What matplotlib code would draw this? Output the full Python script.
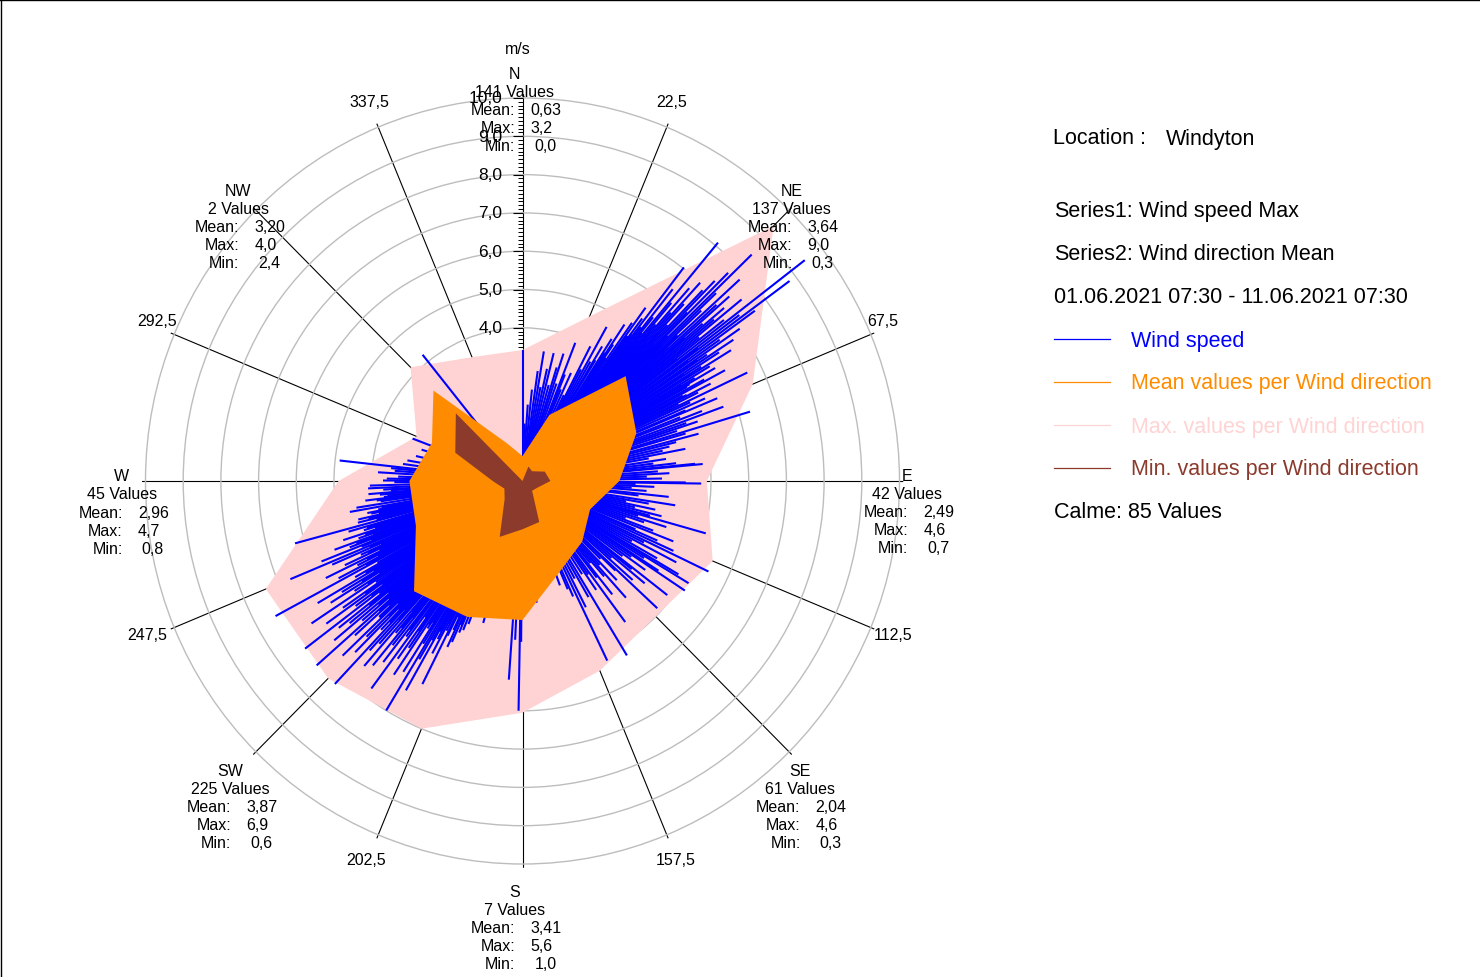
import numpy as np
import matplotlib.pyplot as plt
from matplotlib.lines import Line2D

plt.rcParams['font.family'] = ['Liberation Sans', 'DejaVu Sans']

# ---- data ------------------------------------------------------------------
# polygon corners every 22.5 deg (m/s)
poly_dir = [0, 22.5, 45, 67.5, 90, 112.5, 135, 157.5,
            180, 202.5, 225, 247.5, 270, 292.5, 315, 337.5]
max_line = [3.42, 4.65, 9.42, 6.61, 4.89, 5.46, 5.00, 5.36,
            6.05, 7.00, 7.29, 7.37, 4.88, 3.04, 4.20, 3.50]
mean_line = [0.65, 1.87, 3.87, 3.27, 2.57, 1.94, 2.24, 2.57,
             3.63, 3.84, 4.07, 3.06, 3.00, 2.60, 3.34, 1.06]
min_line = [0.00, 0.41, 0.36, 0.64, 0.74, 0.44, 0.36, 1.16,
            1.26, 1.58, 0.67, 0.52, 0.79, 1.93, 2.50, 0.00]

# sector statistics
sector_names = ['N', 'NE', 'E', 'SE', 'S', 'SW', 'W', 'NW']
sector_count = [141, 137, 42, 61, 7, 225, 45, 2]
sector_mean = [0.63, 3.64, 2.49, 2.04, 3.41, 3.87, 2.96, 3.20]
sector_max = [3.2, 9.0, 4.6, 4.6, 5.6, 6.9, 4.7, 4.0]
sector_min = [0.0, 0.3, 0.7, 0.3, 1.0, 0.6, 0.8, 2.4]

# single measurements (direction deg, speed m/s), only the visible ones
obs_N = [(0, 3.42), (2, 1.5), (4, 2.0), (6, 2.4), (8, 2.9), (9.5, 3.43), (11, 2.5),
         (12.5, 3.0), (13.9, 3.44), (15.5, 2.6), (17, 3.1), (18.1, 3.5), (19.5, 2.7),
         (21.2, 3.87), (22, 3.0)]
obs_NE = [(23, 2.6), (24.5, 3.1), (26, 2.5), (27.1, 3.95), (28, 3.3), (29, 4.6), (30, 3.6),
          (31, 4.1), (31.5, 3.7), (32.5, 4.4), (33, 4.0), (33.5, 4.9), (34, 4.3), (34.5, 3.9),
          (35.1, 5.05), (35.8, 5.58), (36.3, 4.7), (36.8, 5.3), (37.5, 7.03), (38, 5.1),
          (38.5, 6.4), (39, 5.5), (39.8, 8.1), (40.3, 6.1), (40.8, 5.4), (41.3, 6.7),
          (41.8, 5.9), (42.3, 7.0), (42.8, 6.3), (43.3, 5.6), (43.8, 6.9), (44.3, 7.3),
          (44.8, 6.2), (45.1, 7.7), (45.8, 8.48), (46.3, 7.1), (46.8, 6.5), (47.6, 7.8),
          (48.2, 6.9), (48.7, 7.3), (49.3, 6.3), (49.8, 7.0), (50.3, 6.6), (50.8, 7.5),
          (51.3, 6.0), (51.8, 6.8), (52.4, 9.45), (53, 7.2), (53.6, 8.8), (54.2, 7.6),
          (54.8, 6.4), (55.4, 7.0), (56, 5.9), (56.6, 6.7), (57.2, 6.2), (57.8, 5.6),
          (58.3, 6.5), (58.9, 5.8), (59.5, 5.3), (60, 5.9), (60.6, 5.0), (61.2, 5.5),
          (61.7, 6.1), (62.3, 4.8), (63, 5.6), (63.6, 5.2), (64.6, 6.6), (65.2, 4.9),
          (66, 5.3), (66.9, 4.7), (67.3, 5.6),
          (36, 4.4), (37, 4.8), (38.2, 4.6), (39.3, 5.0), (40, 4.7), (41, 5.2), (42, 4.9),
          (43, 5.3), (44, 5.0), (45.4, 5.4), (46, 5.1), (47.2, 5.6), (48, 5.2), (49, 5.7),
          (50, 5.3), (51, 5.5), (52, 5.2), (53.3, 5.8), (54.5, 5.4), (55.7, 5.6), (57, 5.1),
          (58.1, 5.3), (59.2, 4.9), (60.3, 5.1), (61.5, 4.7), (62.7, 4.9), (64, 4.6)]
obs_E = [(68.3, 4.5), (69, 5.1), (70, 5.67), (70.8, 4.6), (71.5, 4.9), (72.3, 4.3),
         (73.3, 6.3), (74, 4.5), (75.2, 4.83), (76, 4.2), (77, 4.0), (78, 3.8), (79, 4.4),
         (80, 3.4), (81.4, 3.85), (82.5, 3.5), (83.5, 4.1), (84.4, 4.6), (84.7, 4.8),
         (86, 3.6), (87, 3.9), (88, 3.3), (89, 3.7), (90.5, 4.33), (90.8, 4.74), (91.5, 3.0),
         (92.5, 3.5), (93.5, 2.9), (94.5, 3.3), (96.1, 3.9), (97, 3.1), (98.9, 4.1),
         (100, 3.4), (101, 2.8), (102, 3.6), (103, 3.06), (104, 3.8), (105, 3.5),
         (105.7, 5.05), (106.5, 3.2), (107.5, 4.0), (108.5, 3.4), (109.5, 2.9),
         (110.5, 3.7), (111.5, 4.3)]
obs_SE = [(112.8, 3.25), (113.5, 3.9), (114.5, 4.4), (115.6, 5.47), (116.5, 3.6),
          (117.5, 4.6), (118.5, 3.3), (119.5, 4.1), (120.5, 4.8), (121.2, 5.15), (122, 3.8),
          (123, 4.3), (123.6, 5.17), (124.5, 3.5), (125.5, 4.0), (126.5, 3.3), (127.8, 4.86),
          (128.5, 3.7), (129.5, 4.2), (130.5, 3.1), (131.5, 3.9), (132.9, 4.88), (133.5, 3.4),
          (134.5, 2.9), (136, 3.6), (137, 3.0), (138, 4.1), (139, 3.3), (140, 2.8),
          (141.2, 3.8), (142, 3.2), (143.5, 4.58), (144.5, 3.0), (145.5, 3.45), (147, 2.9),
          (148.7, 5.33), (150, 3.5), (151.5, 2.9), (153, 3.7), (154.4, 5.2), (156, 3.3),
          (157, 3.07)]
obs_S = [(160, 2.9), (173.3, 3.2), (180.5, 4.2), (181, 6.0), (182.7, 4.15), (184, 5.2),
         (195.7, 3.85)]
obs_SW = [(203, 4.3), (204, 4.6), (204.7, 4.77), (205.8, 3.95), (206.6, 5.93), (207.3, 4.4),
          (208, 5.1), (208.6, 4.7), (209.5, 6.28), (209.9, 4.8), (210.5, 5.4), (211.1, 7.0),
          (211.8, 5.0), (212.4, 5.9), (213.2, 4.6), (214, 6.1), (214.7, 5.3), (215.5, 5.7),
          (216.5, 6.74), (217.2, 5.1), (218, 6.0), (218.8, 5.5), (219.5, 6.24), (220.3, 5.2),
          (221, 6.4), (221.8, 5.7), (222.5, 6.0), (223.2, 7.27), (224, 5.4), (224.8, 6.3),
          (225.5, 5.8), (226.3, 6.6), (227, 5.2), (227.8, 6.0), (228.6, 7.28), (229.4, 5.6),
          (230.2, 6.5), (231, 5.9), (231.8, 6.2), (232.8, 7.24), (233.6, 5.5), (234.4, 6.4),
          (235.2, 5.8), (236.4, 6.72), (237.2, 5.3), (238, 6.0), (238.8, 5.6), (239.6, 6.3),
          (240.5, 5.1), (241.7, 7.44), (242.5, 5.5), (243.3, 4.9), (244.1, 5.8), (245, 5.2),
          (245.8, 4.7), (246.6, 5.5), (247.4, 6.67),
          (201, 4.0), (202, 4.2), (203.5, 4.1), (205.2, 4.3), (206.2, 4.5), (207.8, 4.2),
          (209.1, 4.5), (210.8, 4.3), (212, 4.6), (212.8, 4.4), (213.6, 4.5), (215.1, 4.8),
          (216, 4.4), (217.6, 4.9), (219.1, 4.6), (219.9, 5.0), (220.7, 4.5), (222.1, 4.9),
          (222.9, 4.6), (223.6, 5.1), (224.4, 4.7), (225.2, 5.0), (225.9, 4.6), (226.7, 5.2),
          (227.4, 4.8), (228.2, 5.1), (229, 4.7), (229.8, 5.0), (230.6, 4.6), (231.4, 5.2),
          (232.3, 4.8), (233.2, 5.0), (234, 4.6), (234.8, 5.1), (235.8, 4.7), (236.8, 4.9),
          (237.6, 4.5), (238.4, 5.0), (239.2, 4.6), (240, 4.8), (241, 4.4), (242.1, 4.7),
          (242.9, 4.3), (243.7, 4.6), (244.5, 4.2), (245.4, 4.5), (246.2, 4.1), (247, 4.4)]
obs_W = [(248.5, 5.73), (249.3, 4.9), (250.2, 5.3), (251, 4.6), (252, 5.0), (253, 4.4),
         (254, 4.8), (254.9, 6.25), (256, 4.5), (257, 4.47), (258, 4.1), (259, 3.9),
         (260, 4.65), (261, 4.46), (262, 3.8), (263, 4.2), (264, 3.6), (265.2, 4.1),
         (266.5, 3.7), (267.3, 4.1), (268.3, 4.05), (269.5, 3.4), (271, 3.6), (272, 3.3),
         (273.4, 3.84), (274.5, 3.4), (276.3, 4.88), (278, 3.2), (280, 3.1), (283, 2.9),
         (287, 2.8), (290.8, 3.12),
         (248.1, 4.6), (248.9, 4.3), (249.7, 4.7), (250.6, 4.2), (251.5, 4.4), (252.5, 4.1),
         (253.5, 4.3), (255.4, 4.0), (256.5, 4.2), (257.5, 3.9), (258.5, 4.2), (259.5, 3.8),
         (262.5, 3.9), (263.5, 3.7), (264.6, 3.8), (266, 3.5), (270.2, 3.7), (275.5, 3.5)]
obs_NW = [(305, 2.5), (321.2, 4.23)]

calm_count = 85
location = 'Windyton'
period = '01.06.2021 07:30 - 11.06.2021 07:30'

# ---- colours ---------------------------------------------------------------
c_speed = '#0000ff'
c_mean = '#ff8c00'
c_max = '#ffd3d3'
c_min = '#8b3a2c'

W, H = 1480, 978
cx, cy = 522.5, 482.0      # centre of the rose in pixels
ux, uy = 37.7, 38.3        # pixels per m/s
rmax = 10.1

fig = plt.figure(figsize=(W / 100, H / 100), dpi=100)
ax = fig.add_axes([(cx - rmax * ux) / W, (H - cy - rmax * uy) / H,
                   2 * rmax * ux / W, 2 * rmax * uy / H], projection='polar')
ax.set_aspect('auto')
ax.set_theta_zero_location('N')
ax.set_theta_direction(-1)
ax.set_ylim(0, rmax)
ax.set_facecolor('none')
ax.spines['polar'].set_visible(False)
ax.set_thetagrids(np.arange(0, 360, 22.5), labels=[''] * 16)
ax.set_rgrids(np.arange(1, 11), labels=[''] * 10)
ax.tick_params(length=0)
ax.xaxis.grid(True, color='black', lw=0.8)
ax.yaxis.grid(True, color='#bdbdbd', lw=1.0)
ax.set_axisbelow(True)

# scale on the north axis
major = np.arange(1, 11)
minor = [v / 10 for v in range(1, 101) if v % 10]
ax.plot(np.zeros(len(minor)), minor, ls='none', marker=0, ms=3.5, mew=0.7,
        color='black', zorder=1, clip_on=False)
ax.plot(np.zeros(len(major)), major, ls='none', marker=0, ms=7.5, mew=0.8,
        color='black', zorder=1, clip_on=False)
for v in major:
    ax.annotate(f'{v},0', xy=(0, v), xytext=(-20, 0), textcoords='offset pixels',
                ha='right', va='center', fontsize=12.5, zorder=1, annotation_clip=False)
ax.annotate('m/s', xy=(0, rmax), xytext=(-5, 46), textcoords='offset pixels',
            ha='center', va='center', fontsize=11.5, annotation_clip=False)

# degree labels between the sectors
deg_off = [(-4, 4), (-9, 5), (1, 2), (0, -3), (-4, -3), (-6, 2), (4, 5), (0, 4)]
for i, a in enumerate(np.arange(22.5, 360, 45)):
    ax.annotate(f'{a:.1f}'.replace('.', ','), xy=(np.deg2rad(a), 10.6),
                xytext=deg_off[i], textcoords='offset pixels',
                ha='center', va='center', fontsize=11.5, annotation_clip=False)

# polygons and single values
th = np.deg2rad(poly_dir)
ax.fill(th, max_line, color=c_max, lw=0, zorder=2)
obs = obs_N + obs_NE + obs_E + obs_SE + obs_S + obs_SW + obs_W + obs_NW
obs_dir = np.deg2rad([o[0] for o in obs])
obs_speed = [o[1] for o in obs]
ax.vlines(obs_dir, 0, obs_speed, colors=c_speed, lw=1.5, zorder=3)
ax.fill(th, mean_line, color=c_mean, lw=0, zorder=4)
ax.fill(th, min_line, color=c_min, lw=0, zorder=5)

# sector statistics blocks
def fmt(v, nd):
    return f'{v:.{nd}f}'.replace('.', ',')

name_off = [(-8, 3), (-12, 5), (-13, 5), (-4, -4), (-8, -6), (-11, -4), (-3, 5), (-3, 5)]
for i, name in enumerate(sector_names):
    a = np.deg2rad(i * 45)
    ox, oy = name_off[i]
    rows = [(name, 0, 'center'), (f'{sector_count[i]} Values', 0, 'center'),
            ('Mean:', 1, 'right'), (fmt(sector_mean[i], 2), 16, 'left'),
            ('Max:', 1, 'right'), (fmt(sector_max[i], 1), 16, 'left'),
            ('Min:', 1, 'right'), (fmt(sector_min[i], 1), 20, 'left')]
    lines = [0, 1, 2, 2, 3, 3, 4, 4]
    for (txt, dx, ha), ln in zip(rows, lines):
        ax.annotate(txt, xy=(a, 10.55), xytext=(ox + dx, oy - 18 * ln),
                    textcoords='offset pixels', ha=ha, va='center', fontsize=11.5,
                    zorder=6, annotation_clip=False)

# legend / info panel
def px(x, y):
    return x / W, 1 - y / H

fs = 15.5
fig.text(*px(1053, 139), 'Location :', fontsize=fs, va='center')
fig.text(*px(1166, 139), location, fontsize=fs, va='center')
fig.text(*px(1054, 212), 'Series1:', fontsize=fs, va='center')
fig.text(*px(1139, 212), 'Wind speed Max', fontsize=fs, va='center')
fig.text(*px(1054, 255), 'Series2:', fontsize=fs, va='center')
fig.text(*px(1139, 255), 'Wind direction Mean', fontsize=fs, va='center')
fig.text(*px(1054, 298), period, fontsize=fs, va='center')

legend_items = [('Wind speed', c_speed), ('Mean values per Wind direction', c_mean),
                ('Max. values per Wind direction', c_max),
                ('Min. values per Wind direction', c_min)]
for k, (lab, col) in enumerate(legend_items):
    y = 340 + 43 * k
    fig.add_artist(Line2D([1054 / W, 1110 / W], [1 - y / H] * 2, color=col, lw=0.9))
    fig.text(*px(1131, y + 1), lab, color=col, fontsize=fs, va='center')
fig.text(*px(1054, 513), f'Calme: {calm_count} Values', fontsize=fs, va='center')

# frame lines at top and left
fig.add_artist(Line2D([0.5 / W, 0.5 / W], [0, 1], color='black', lw=1))
fig.add_artist(Line2D([0, 1], [1 - 0.5 / H] * 2, color='black', lw=1))

fig.savefig('out.png', dpi=100)
